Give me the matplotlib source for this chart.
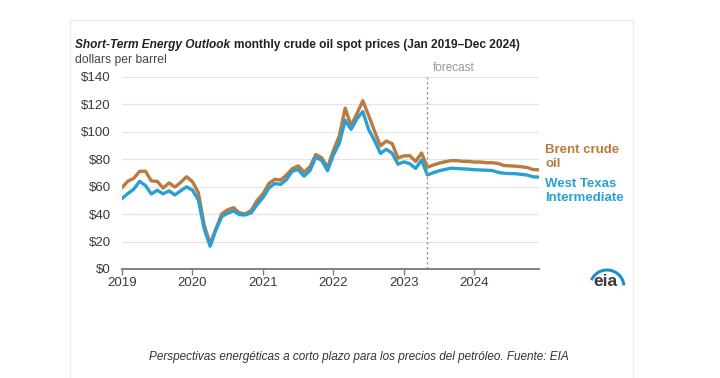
import numpy as np
import matplotlib
matplotlib.use("Agg")
import matplotlib.pyplot as plt
from matplotlib.patches import Arc

plt.rcParams['font.family'] = ['Liberation Sans', 'DejaVu Sans']

# monthly spot prices, $/bbl, Jan 2019 - Dec 2024 (forecast from May 2023)
brent = [
    59.4, 64.0, 66.1, 71.2, 71.3, 64.2, 63.9, 59.0, 62.8, 59.7, 63.2, 67.3,
    63.7, 55.7, 32.0, 18.4, 29.4, 40.3, 43.2, 44.7, 40.9, 40.2, 42.7, 49.9,
    54.8, 62.3, 65.4, 64.8, 68.5, 73.2, 75.2, 70.8, 74.5, 83.5, 81.1, 74.2,
    86.5, 97.1, 117.3, 104.6, 113.3, 122.7, 111.9, 100.5, 89.8, 93.3, 91.4, 80.9,
    82.5, 82.6, 78.4, 84.6, 74.2, 75.8, 77.2, 78.2, 79.0, 79.0, 78.5, 78.5,
    78.0, 78.0, 77.5, 77.5, 77.0, 75.5, 75.2, 75.0, 74.5, 74.0, 72.5, 72.3,
]
wti = [
    51.4, 55.0, 58.2, 63.9, 60.8, 54.7, 57.4, 54.8, 57.0, 54.0, 57.1, 59.9,
    57.5, 50.5, 29.2, 16.6, 28.6, 38.3, 40.7, 42.3, 39.6, 39.4, 40.9, 47.0,
    52.0, 59.0, 62.3, 61.7, 65.2, 71.4, 72.5, 67.7, 71.7, 81.5, 79.2, 71.7,
    83.2, 91.6, 108.5, 101.8, 109.6, 114.8, 101.6, 93.7, 84.3, 87.3, 84.4, 76.4,
    78.1, 76.8, 73.3, 79.4, 68.6, 70.2, 71.6, 72.6, 73.5, 73.3, 73.0, 72.8,
    72.4, 72.2, 72.0, 71.8, 70.5, 69.8, 69.6, 69.5, 69.0, 68.5, 67.2, 67.0,
]
years = [2019, 2020, 2021, 2022, 2023, 2024]
yticks = [0, 20, 40, 60, 80, 100, 120, 140]
forecast_start = 2023 + 4 / 12

t = 2019 + np.arange(len(brent)) / 12

brent_c = "#bb7b3e"
wti_c = "#2a9fd4"

fig = plt.figure(figsize=(7.2, 3.78), dpi=100)
ax = fig.add_axes([122 / 720, 1 - 269 / 378, (539 - 122) / 720, (269 - 77) / 378])

ax.plot(t, brent, color=brent_c, lw=2.4, solid_joinstyle="round")
ax.plot(t, wti, color=wti_c, lw=2.4, solid_joinstyle="round")
ax.axvline(forecast_start, color="#999999", ls=(0, (2, 2)), lw=0.9)
ax.text(forecast_start + 0.08, 142.5, "forecast", color="#999999", fontsize=8.5,
        va="bottom", ha="left")

ax.set_xlim(2019, t[-1])
ax.set_ylim(0, 140)
ax.set_yticks(yticks)
ax.set_yticklabels([f"${v}" for v in yticks])
ax.set_xticks(years)
ax.set_xticklabels([str(y) for y in years])
ax.grid(axis="y", color="#e4e4e4", lw=0.9)
ax.set_axisbelow(True)
for s in ["top", "right", "left"]:
    ax.spines[s].set_visible(False)
ax.spines["bottom"].set_color("#808080")
ax.spines["bottom"].set_linewidth(1.4)
ax.tick_params(axis="y", length=0, pad=8, labelsize=9.5, labelcolor="#3a3a3a")
ax.tick_params(axis="x", length=4, width=1, color="#808080", labelsize=9.5,
               labelcolor="#3a3a3a", pad=2)

# series labels
fig.text(545 / 720, 1 - 157 / 378, "Brent crude\noil", color=brent_c,
         fontsize=9.5, fontweight="bold", va="center", ha="left", linespacing=1.3)
fig.text(545 / 720, 1 - 191 / 378, "West Texas\nIntermediate", color=wti_c,
         fontsize=9.5, fontweight="bold", va="center", ha="left", linespacing=1.3)

# title: italic part then regular bold part right after it
t1 = fig.text(75 / 720, 1 - 45 / 378, "Short-Term Energy Outlook", fontsize=8.6,
              fontweight="bold", fontstyle="italic", color="#222222", va="center")
fig.canvas.draw()
bb = t1.get_window_extent()
fig.text((bb.x1 + 4) / 720, 1 - 45 / 378,
         "monthly crude oil spot prices (Jan 2019\u2013Dec 2024)",
         fontsize=8.6, fontweight="bold", color="#222222", va="center")
fig.text(75 / 720, 1 - 60 / 378, "dollars per barrel", fontsize=8.7,
         color="#444444", va="center")

# eia logo
fig.text(605 / 720, 1 - 282 / 378, "eia", fontsize=12.5, fontweight="bold",
         color="#3a3a3a", ha="center", va="center")
fig.patches.append(Arc((607 / 720, 1 - 287 / 378), 34 / 720, 34 / 378,
                       theta1=10, theta2=140, color="#1f8fc9", lw=2.2,
                       transform=fig.transFigure))

# frame
for xs, ys in [([70, 70], [20, 378]), ([70, 633], [20, 20]), ([633, 633], [20, 378])]:
    fig.add_artist(plt.Line2D([x / 720 for x in xs], [1 - y / 378 for y in ys],
                              color="#ececec", lw=1, transform=fig.transFigure))

fig.text(359 / 720, 1 - 357 / 378,
         "Perspectivas energéticas a corto plazo para los precios del petróleo. Fuente: EIA",
         fontsize=8.5, fontstyle="italic", color="#333333", ha="center", va="center")

fig.savefig("out.png", dpi=100)
